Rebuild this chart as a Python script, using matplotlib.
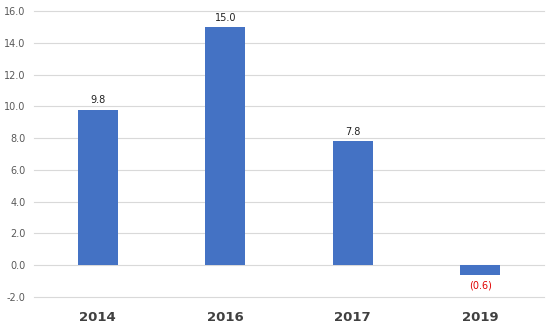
import matplotlib
matplotlib.use('Agg')
import matplotlib.pyplot as plt
import numpy as np

# ── Data ──────────────────────────────────────────────
years = ['2014', '2016', '2017', '2019']
values = [9.8, 15.0, 7.8, -0.6]
labels = ['9.8', '15.0', '7.8', '(0.6)']

fig = plt.figure(figsize=(5.54, 3.32), dpi=100)
ax = fig.add_axes([0.0614, 0.1054, 0.9206, 0.8615])

x = np.arange(len(years))
ax.bar(x, values, width=0.314, color='#4472C4', zorder=3)

for xi, v, lab in zip(x, values, labels):
    if v >= 0:
        ax.annotate(lab, (xi, v), xytext=(0, 3), textcoords='offset points',
                    ha='center', va='bottom', fontsize=7, color='#222222')
    else:
        ax.annotate(lab, (xi, v), xytext=(0, -4), textcoords='offset points',
                    ha='center', va='top', fontsize=7, color='#E00000')

ax.set_xlim(-0.5, len(years) - 0.5)
ax.set_ylim(-2, 16)
ax.set_yticks(np.arange(-2, 17, 2))
ax.set_yticklabels([f'{t:.1f}' for t in np.arange(-2, 17, 2)])
ax.yaxis.grid(True, color='#D9D9D9', linewidth=0.8, zorder=0)
for gl in ax.get_ygridlines():
    gl.set_clip_on(False)
ax.set_xticks(x)
ax.set_xticklabels(years, fontsize=9.5, fontweight='bold', color='#404040')
ax.tick_params(axis='y', labelsize=7, colors='#595959', length=0, pad=6)
ax.tick_params(axis='x', length=0, pad=10)
for s in ax.spines.values():
    s.set_visible(False)

fig.savefig('out.png', dpi=100)
